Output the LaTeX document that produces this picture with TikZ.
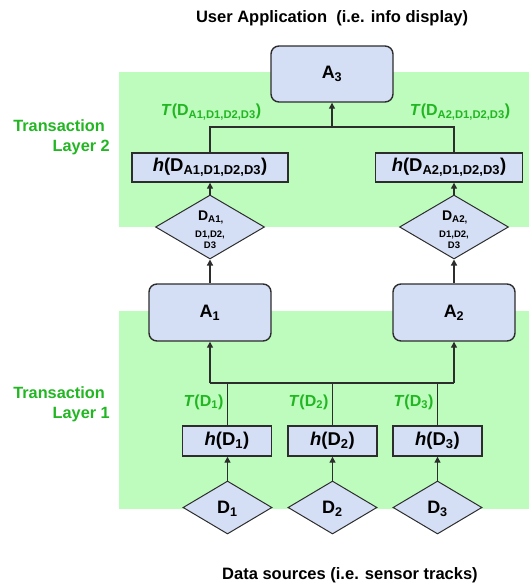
\documentclass[tikz,border=0pt]{standalone}
\usepackage{fontspec}
\setmainfont{Liberation Sans}
\usetikzlibrary{shapes.geometric,arrows.meta}
\definecolor{greenbg}{RGB}{189,252,189}
\definecolor{boxfill}{RGB}{212,222,244}
\definecolor{linec}{RGB}{45,45,45}
\definecolor{greent}{RGB}{34,182,34}
\begin{document}
\begin{tikzpicture}[x=1pt,y=-1pt,
  rbox/.style={draw=linec, fill=boxfill, rounded corners=8pt, line width=1.4pt, minimum width=122pt, minimum height=56pt, inner sep=0pt, font=\fontsize{18}{20}\selectfont\bfseries},
  hbox/.style={draw=linec, fill=boxfill, line width=1.4pt, minimum height=29pt, inner sep=0pt, font=\fontsize{18.5}{20}\selectfont\bfseries},
  dia/.style={diamond, draw=linec, fill=boxfill, line width=1pt, inner sep=0pt},
  dtext/.style={inner sep=0pt, align=center, font=\fontsize{18}{20}\selectfont\bfseries},
  dsmall/.style={inner sep=0pt, anchor=base, font=\fontsize{9.5}{11}\selectfont\bfseries},
  dbig/.style={inner sep=0pt, anchor=base, font=\fontsize{14}{16}\selectfont\bfseries},
  conn/.style={draw=linec, line width=1.3pt},
  arr/.style={conn, -{Triangle[length=6pt,width=6pt]}},
  tlab/.style={text=greent, inner sep=0pt, font=\fontsize{16}{18}\selectfont\bfseries},
  layerlab/.style={text=greent, inner sep=0pt, align=right, anchor=east, font=\fontsize{16.3}{20}\selectfont\bfseries},
  caption/.style={inner sep=0pt, font=\fontsize{16.5}{18}\selectfont\bfseries}]
\useasboundingbox (0,0) rectangle (529,584);
\fill[greenbg] (119,72) rectangle (529,227);
\fill[greenbg] (119,311) rectangle (529,509);

\node[caption] (title) at (332,18) {User Application\ \ (i.e. info display)};
\node[caption] (src) at (350,575) {Data sources (i.e. sensor tracks)};
\node[layerlab] (L2) at (110,137) {Transaction\hspace*{5pt}\\Layer 2};
\node[layerlab] (L1) at (110,404) {Transaction\hspace*{5pt}\\Layer 1};

% layer 2
\node[rbox] (A3) at (332,74) {A\textsubscript{3}};
\node[hbox, minimum width=156pt] (hL) at (210,167.5) {\textit{h}(D\textsubscript{A1,D1,D2,D3})};
\node[hbox, minimum width=147pt] (hR) at (449,167.5) {\textit{h}(D\textsubscript{A2,D1,D2,D3})};
\node[dia, minimum width=109pt, minimum height=64pt] (DL) at (210,227) {};
\node[dia, minimum width=109pt, minimum height=64pt] (DR) at (454,227) {};
\node[dbig] (DLa) at (211,220) {D\textsubscript{A1,}};
\node[dsmall] (DLb) at (210,237.5) {D1,D2,};
\node[dsmall] (DLc) at (210,248.5) {D3};
\node[dbig] (DRa) at (455,220) {D\textsubscript{A2,}};
\node[dsmall] (DRb) at (454,237.5) {D1,D2,};
\node[dsmall] (DRc) at (454,248.5) {D3};
\node[tlab] (TL) at (211,112) {\textit{T}(D\textsubscript{A1,D1,D2,D3})};
\node[tlab] (TR) at (460,112) {\textit{T}(D\textsubscript{A2,D1,D2,D3})};

% layer 1
\node[rbox, minimum height=57pt] (A1) at (210,312.5) {A\textsubscript{1}};
\node[rbox, minimum height=57pt] (A2) at (454,312.5) {A\textsubscript{2}};
\node[hbox, minimum width=89pt, minimum height=30pt] (h1) at (227,441) {\textit{h}(D\textsubscript{1})};
\node[hbox, minimum width=89pt, minimum height=30pt] (h2) at (332.5,441) {\textit{h}(D\textsubscript{2})};
\node[hbox, minimum width=89pt, minimum height=30pt] (h3) at (437.5,441) {\textit{h}(D\textsubscript{3})};
\node[dia, minimum width=89pt, minimum height=53pt] (D1) at (227.5,507.5) {};
\node[dia, minimum width=89pt, minimum height=53pt] (D2) at (332.5,507.5) {};
\node[dia, minimum width=89pt, minimum height=53pt] (D3) at (437.5,507.5) {};
\node[dtext] (D1t) at (227.5,509) {D\textsubscript{1}};
\node[dtext] (D2t) at (332.5,509) {D\textsubscript{2}};
\node[dtext] (D3t) at (437.5,509) {D\textsubscript{3}};
\node[tlab] (T1) at (203.5,402) {\textit{T}(D\textsubscript{1})};
\node[tlab] (T2) at (308.5,402) {\textit{T}(D\textsubscript{2})};
\node[tlab] (T3) at (413.5,402) {\textit{T}(D\textsubscript{3})};

\coordinate (bus2) at (332,127);
\coordinate (bus1) at (332,383);

% connectors layer 2
\draw[conn] (hL.north) |- (bus2) -| (DR |- hR.north);
\draw[arr] (bus2) -- (A3.south);
\draw[arr] (DL.north) -- (hL.south);
\draw[arr] (DR.north) -- (DR |- hR.south);
\draw[arr] (A1.north) -- (DL.south);
\draw[arr] (A2.north) -- (DR.south);

% connectors layer 1
\draw[conn] (A1.south |- bus1) -- (A2.south |- bus1);
\draw[arr] (A1.south |- bus1) -- (A1.south);
\draw[arr] (A2.south |- bus1) -- (A2.south);
\draw[conn] (D1 |- h1.north) -- (D1 |- bus1);
\draw[conn] (h2.north) -- (h2.north |- bus1);
\draw[conn] (D3 |- h3.north) -- (D3 |- bus1);
\draw[arr] (D1.north) -- (D1 |- h1.south);
\draw[arr] (D2.north) -- (h2.south);
\draw[arr] (D3.north) -- (D3 |- h3.south);
\end{tikzpicture}
\end{document}
